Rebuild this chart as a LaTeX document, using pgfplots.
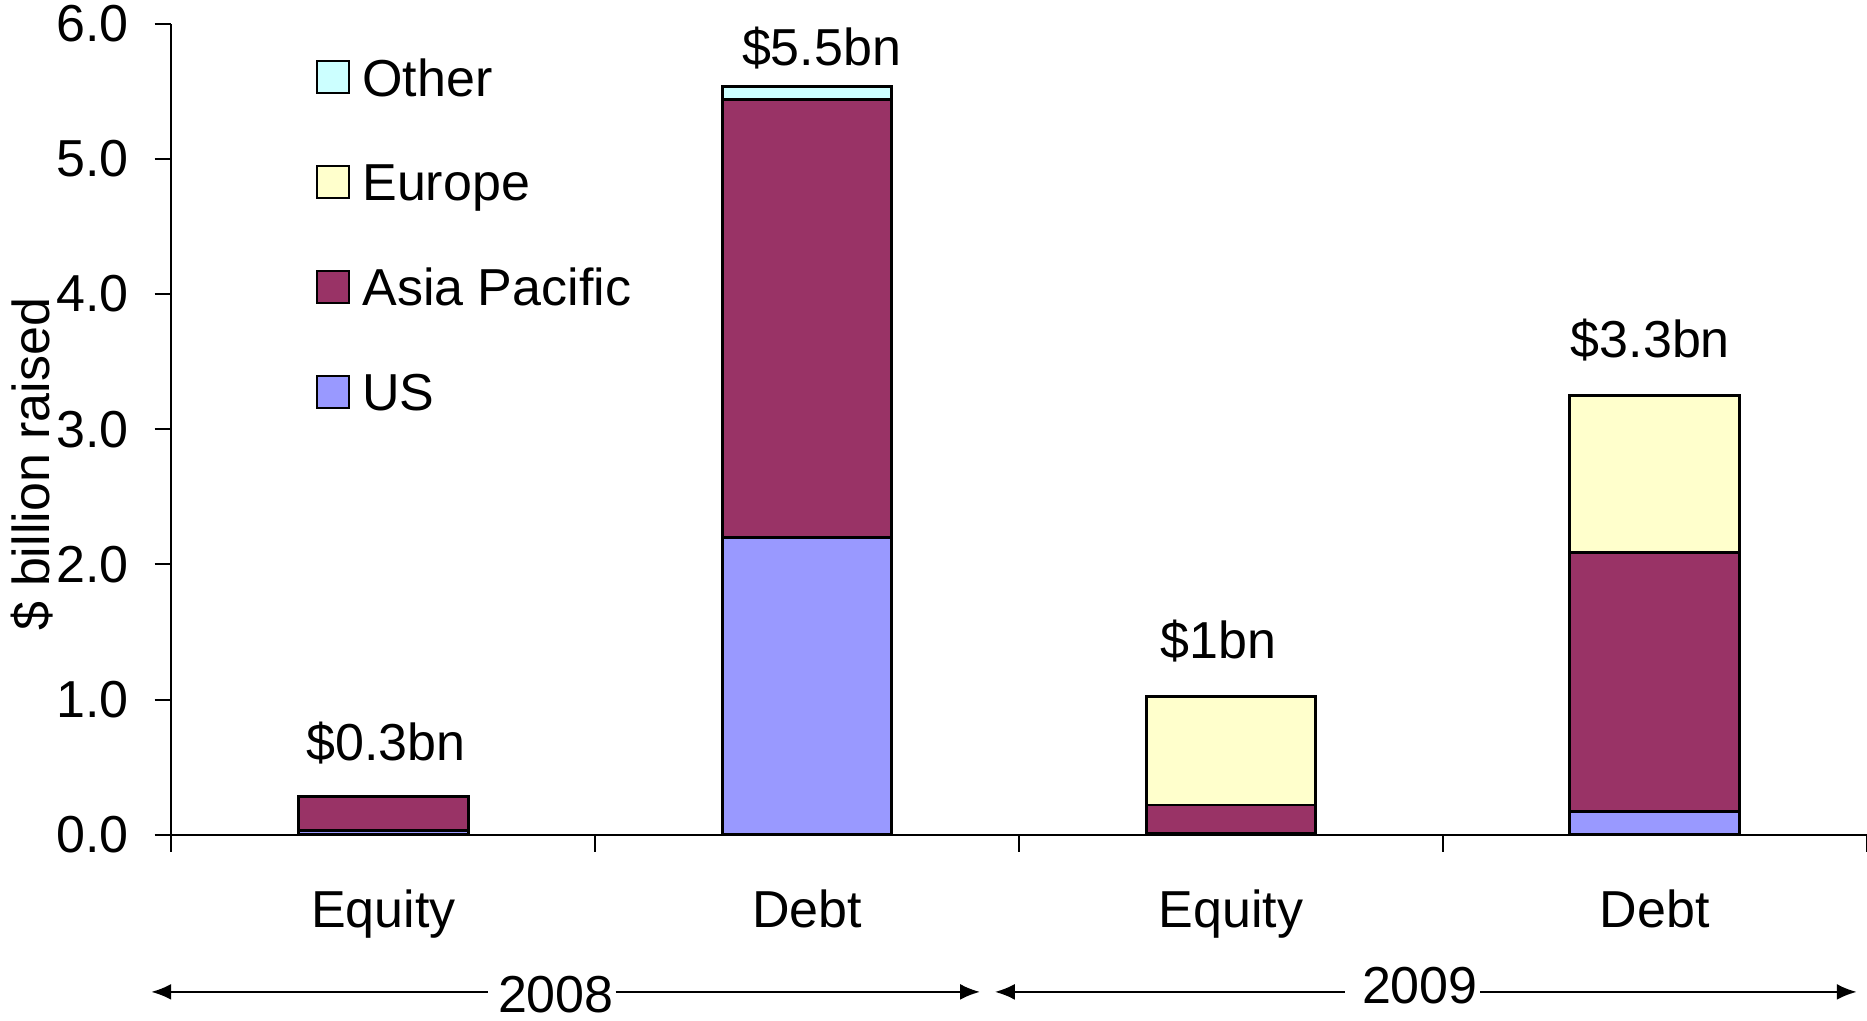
\documentclass[border=0pt]{standalone}
\usepackage{fontspec}
\setmainfont{Liberation Sans}
\usepackage{pgfplots}
\pgfplotsset{compat=1.18}
\usetikzlibrary{arrows.meta}
\definecolor{cUS}{HTML}{9999FF}
\definecolor{cAP}{HTML}{993366}
\definecolor{cEU}{HTML}{FFFFCC}
\definecolor{cOT}{HTML}{CCFFFF}
\newcommand\ff{\fontsize{13pt}{15.6pt}\selectfont}
\begin{document}
\ff
\begin{tikzpicture}[font=\ff]
\useasboundingbox (-42.875pt,-46.325pt) rectangle (423.875pt,208.675pt);
\begin{axis}[
  scale only axis, width=423.75pt, height=202.75pt,
  ybar stacked, bar width=0.4,
  xmin=-0.5, xmax=3.5, ymin=0, ymax=6,
  axis lines*=left,
  axis line style={line width=0.5pt},
  clip=false,
  xtick={0,1,2,3}, xticklabels={Equity,Debt,Equity,Debt},
  minor xtick={-0.5,0.5,1.5,2.5,3.5},
  major x tick style={draw=none},
  ytick={0,1,2,3,4,5,6},
  tick align=outside,
  major tick length=4.2pt, minor tick length=4.2pt,
  tick style={black, line width=0.5pt},
  /pgf/number format/assume math mode=true,
  y tick label style={xshift=-2pt, /pgf/number format/fixed, /pgf/number format/fixed zerofill, /pgf/number format/precision=1},
  x tick label style={yshift=-5pt},
  ylabel={\$ billion raised},
  every axis y label/.style={at={(axis description cs:-0.0823,0.457)}, rotate=90, anchor=center},
  legend style={at={(axis description cs:0.085,0.958)}, anchor=north west, draw=none, fill=none,
    row sep=16.8pt, column sep=3pt, font=\ff, inner sep=0pt,
    nodes={inner sep=0pt, text height=9.4pt, text depth=0pt}},
  legend cell align=left,
  reverse legend,
  legend image code/.code={\draw[#1,draw=black,line width=0.5pt] (0pt,-4pt) rectangle (8pt,4pt);},
  every axis plot/.append style={draw=black, line width=0.7pt},
]
\addplot[fill=cUS] coordinates {(0,0.03) (1,2.20) (2,0.01) (3,0.17)};
\addplot[fill=cAP] coordinates {(0,0.25) (1,3.24) (2,0.21) (3,1.92)};
\addplot[fill=cEU] coordinates {(0,0) (1,0) (2,0.80) (3,1.16)};
\addplot[fill=cOT] coordinates {(0,0) (1,0.095) (2,0) (3,0)};
\legend{US,Asia Pacific,Europe,Other}
\node[anchor=base] at (axis cs:0.006,0.546) {\$0.3bn};
\node[anchor=base] at (axis cs:1.034,5.69) {\$5.5bn};
\node[anchor=base] at (axis cs:1.970,1.30) {\$1bn};
\node[anchor=base] at (axis cs:2.990,3.53) {\$3.3bn};
\draw[{Latex[length=5pt,width=4pt]}-, line width=0.6pt] (axis cs:-0.548,-1.163) -- (axis cs:0.247,-1.163);
\draw[-{Latex[length=5pt,width=4pt]}, line width=0.6pt] (axis cs:0.548,-1.163) -- (axis cs:1.408,-1.163);
\draw[{Latex[length=5pt,width=4pt]}-, line width=0.6pt] (axis cs:1.443,-1.163) -- (axis cs:2.270,-1.163);
\draw[-{Latex[length=5pt,width=4pt]}, line width=0.6pt] (axis cs:2.588,-1.163) -- (axis cs:3.477,-1.163);
\node[inner sep=0pt] at (axis cs:0.407,-1.18) {2008};
\node[inner sep=0pt] at (axis cs:2.446,-1.12) {2009};
\end{axis}
\end{tikzpicture}
\end{document}
